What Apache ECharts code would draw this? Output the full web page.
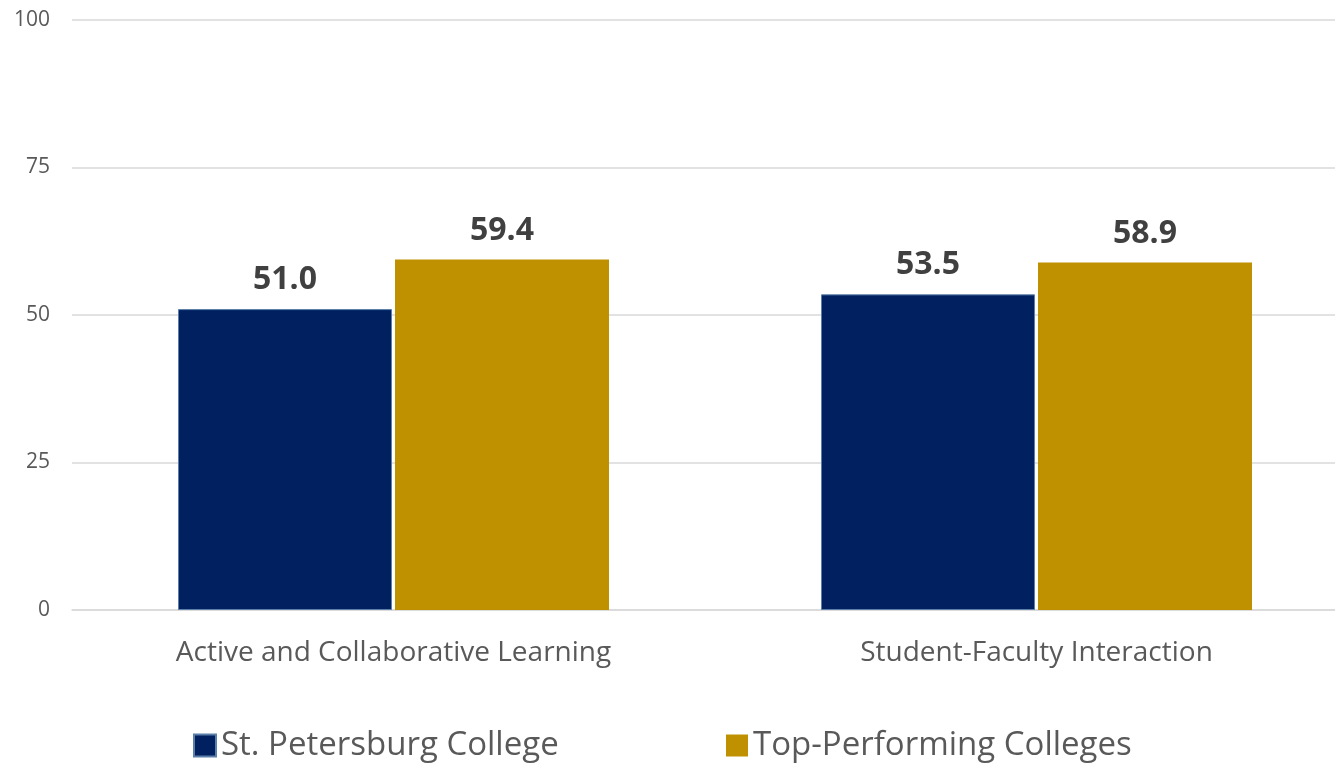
<!DOCTYPE html>
<html>
<head>
<meta charset="utf-8">
<script src="https://cdn.jsdelivr.net/npm/echarts@6/dist/echarts.min.js"></script>
<style>
html,body{margin:0;padding:0;background:#fff;}
#chart{width:1335px;height:763px;}
</style>
</head>
<body>
<div id="chart"></div>
<script>
var categories = ['Active and Collaborative Learning', 'Student-Faculty Interaction'];
var seriesNames = ['St. Petersburg College', 'Top-Performing Colleges'];
var spcValues = [51.0, 53.5];
var topValues = [59.4, 58.9];
var yTicks = [0, 25, 50, 75, 100];

var FONT = '"Open Sans", sans-serif';
var legendText = { fontFamily: FONT, fontSize: 33, color: '#595959' };
var labelStyle = {
  show: true, position: 'top', distance: 13,
  formatter: function (p) { return p.value.toFixed(1); },
  fontFamily: FONT, fontSize: 32, fontWeight: 'bold', color: '#404040'
};
var chart = echarts.init(document.getElementById('chart'));
chart.setOption({
  backgroundColor: '#ffffff',
  animation: false,
  grid: { left: 72, right: -23, top: 20, bottom: 153, outerBoundsMode: 'none', containLabel: false },
  legend: [
    {
      left: 188, top: 724,
      itemWidth: 22, itemHeight: 22, itemGap: 7, icon: 'rect',
      textStyle: legendText,
      data: [seriesNames[0]]
    },
    {
      left: 721, top: 724,
      itemWidth: 22, itemHeight: 22, itemGap: 7, icon: 'rect',
      textStyle: legendText,
      data: [seriesNames[1]]
    }
  ],
  xAxis: {
    type: 'category',
    data: categories,
    axisLine: { lineStyle: { color: '#d9d9d9', width: 1.5 } },
    axisTick: { show: false },
    axisLabel: { fontFamily: FONT, fontSize: 28, color: '#595959', margin: 29 }
  },
  yAxis: {
    type: 'value',
    min: yTicks[0],
    max: yTicks[yTicks.length - 1],
    interval: 25,
    axisLine: { show: false },
    axisTick: { show: false },
    splitLine: { lineStyle: { color: '#d9d9d9', width: 1.5 } },
    axisLabel: { fontFamily: FONT, fontSize: 21, color: '#595959', margin: 22 }
  },
  series: [
    {
      name: seriesNames[0],
      type: 'bar',
      data: spcValues,
      barWidth: 214,
      barGap: '1.4%',
      itemStyle: { color: '#002060', borderColor: '#5b7fa8', borderWidth: 1 },
      label: labelStyle
    },
    {
      name: seriesNames[1],
      type: 'bar',
      data: topValues,
      barWidth: 214,
      barGap: '1.4%',
      itemStyle: { color: '#bf9000' },
      label: labelStyle
    }
  ]
});
</script>
</body>
</html>
